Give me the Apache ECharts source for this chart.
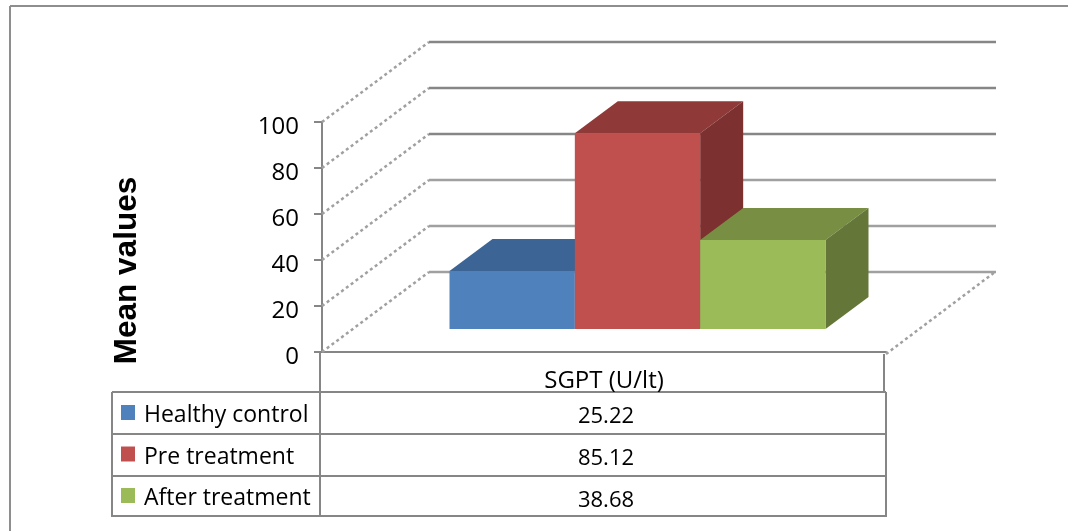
<!DOCTYPE html>
<html><head><meta charset="utf-8">
<style>html,body{margin:0;padding:0;background:#fff}#c{width:1068px;height:531px}</style>
<script src="https://cdn.jsdelivr.net/npm/echarts@6/dist/echarts.min.js"></script>
</head><body><div id="c"></div>
<script>
const categories = ['SGPT (U/lt)'];
const seriesNames = ['Healthy control', 'Pre treatment', 'After treatment'];
const healthyControl = [25.22];
const preTreatment = [85.12];
const afterTreatment = [38.68];
const valueLabels = ['25.22', '85.12', '38.68'];
const yTicks = [0, 20, 40, 60, 80, 100];
const yTitle = 'Mean values';

const FONT = '"Open Sans", "Noto Sans", sans-serif';
const WALL = {dx: 107, dy: -80};
const DEPTH0 = {dx: 33.5, dy: -23};
const DEPTH = {dx: 43, dy: -32};
const BAR_FRACTION = 2 / 9;

const chart = echarts.init(document.getElementById('c'), null, {renderer: 'canvas'});

function wallItem(params, api) {
  const v = api.value(0);
  const p = api.coord([0, v]);
  const size = api.size([1, 0]);
  const left = p[0] - size[0] / 2, right = p[0] + size[0] / 2;
  const y = p[1];
  const dash = {stroke: '#a0a0a0', lineWidth: 2.5, lineDash: [3, 3], fill: null};
  const solid = {stroke: v >= 60 ? '#868686' : '#a0a0a0', lineWidth: 2.5, fill: null};
  const children = [
    {type: 'line', shape: {x1: left, y1: y, x2: left + WALL.dx, y2: y + WALL.dy}, style: dash},
    {type: 'line', shape: {x1: left + WALL.dx, y1: y + WALL.dy, x2: right + WALL.dx + 3, y2: y + WALL.dy}, style: solid}
  ];
  if (v === 0) {
    children.push({type: 'line', shape: {x1: right, y1: y + 2, x2: right + WALL.dx + 2, y2: y + WALL.dy}, style: dash});
  }
  return {type: 'group', children};
}

function barItem(index, front, top, side) {
  return function (params, api) {
    const c0 = api.coord([0, 0]);
    const c1 = api.coord([0, api.value(1)]);
    const band = api.size([1, 0])[0];
    const w = band * BAR_FRACTION;
    const x0 = c0[0] - 1.5 * w + index * w + DEPTH0.dx;
    const x1 = x0 + w;
    const yb = c0[1] + DEPTH0.dy;
    const yt = c1[1] + DEPTH0.dy;
    return {type: 'group', children: [
      {type: 'polygon', shape: {points: [[x0, yt], [x1, yt], [x1 + DEPTH.dx, yt + DEPTH.dy], [x0 + DEPTH.dx, yt + DEPTH.dy]]}, style: {fill: top}},
      {type: 'polygon', shape: {points: [[x1, yt], [x1 + DEPTH.dx, yt + DEPTH.dy], [x1 + DEPTH.dx, yb + DEPTH.dy], [x1, yb]]}, style: {fill: side}},
      {type: 'rect', shape: {x: x0, y: yt, width: w, height: yb - yt}, style: {fill: front}}
    ]};
  };
}

function barSeries(i, values, front, top, side) {
  return {
    type: 'custom', name: seriesNames[i], coordinateSystem: 'cartesian2d', clip: false, z: 3 + i,
    itemStyle: {color: front},
    encode: {x: 0, y: 1},
    data: values.map((v, k) => [categories[k], v]),
    renderItem: barItem(i, front, top, side),
    silent: true
  };
}

const lineStyle = (c, w) => ({stroke: c || '#868686', lineWidth: w || 2});
const L = (x1, y1, x2, y2, c, w) => ({type: 'line', shape: {x1, y1, x2, y2}, style: lineStyle(c, w), silent: true});

const rowTops = [392, 434, 476, 516];
const graphics = [
  L(10, 6, 1068, 6, '#8e8e8e'), L(10, 6, 10, 531, '#8e8e8e'),
  L(112, 392, 886, 392), L(112, 434, 886, 434), L(112, 476, 886, 476), L(112, 516, 886, 516),
  L(112, 392, 112, 517), L(320, 352, 320, 517), L(884, 354, 884, 392), L(886, 392, 886, 517),
  {type: 'text', rotation: Math.PI / 2, x: 127, y: 270.5,
    style: {text: yTitle, font: 'bold 31.5px "Liberation Sans"', fill: '#000', align: 'center', verticalAlign: 'middle'}}
];
valueLabels.forEach((t, i) => graphics.push({
  type: 'text', x: 606, y: rowTops[i] + 25,
  style: {text: t, font: '22px ' + FONT, fill: '#000', align: 'center', verticalAlign: 'middle'}
}));

chart.setOption({
  animation: false,
  backgroundColor: '#fff',
  grid: {left: 322, top: 122, width: 564, height: 230},
  legend: {
    show: true, orient: 'vertical', left: 121, top: 398, padding: 0, itemWidth: 14, itemHeight: 15, itemGap: 12.5,
    icon: 'rect', selectedMode: false, data: seriesNames,
    formatter: '{a|{name}}',
    textStyle: {
      fontFamily: FONT, fontSize: 23, color: '#000',
      rich: {a: {fontFamily: FONT, fontSize: 23, color: '#000', lineHeight: 23, padding: [6, 0, 0, 4]}}
    }
  },
  xAxis: {
    type: 'category', data: categories, offset: 2,
    axisLine: {show: true, lineStyle: {color: '#868686', width: 2}},
    axisTick: {show: false},
    axisLabel: {color: '#000', fontFamily: FONT, fontSize: 24, margin: 15}
  },
  yAxis: {
    type: 'value', min: 0, max: 100, interval: 20,
    splitLine: {show: false},
    axisLine: {show: true, lineStyle: {color: '#868686', width: 2}},
    axisTick: {show: true, inside: false, length: 8, lineStyle: {color: '#868686', width: 2}},
    axisLabel: {color: '#000', fontFamily: FONT, fontSize: 24, margin: 23, verticalAlign: 'top', lineHeight: 10}
  },
  graphic: graphics,
  series: [
    {type: 'custom', coordinateSystem: 'cartesian2d', clip: false, z: 1, silent: true,
     encode: {y: 0}, data: yTicks.map(v => [v]), renderItem: wallItem},
    barSeries(0, healthyControl, '#4f81bd', '#3c6494', '#33557e'),
    barSeries(1, preTreatment, '#c0504d', '#8f3938', '#7c302f'),
    barSeries(2, afterTreatment, '#9bbb59', '#788f43', '#647738')
  ]
});
</script></body></html>
